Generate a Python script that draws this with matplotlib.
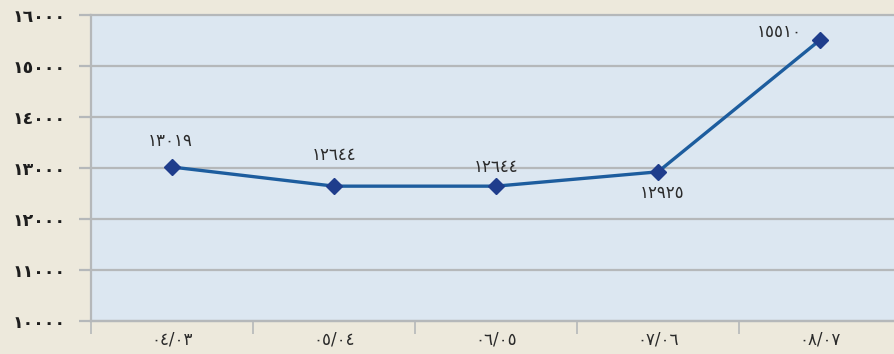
import matplotlib
matplotlib.use("Agg")
import matplotlib.pyplot as plt
from matplotlib.ticker import FixedLocator

# Series
periods = ["٠٤/٠٣", "٠٥/٠٤", "٠٦/٠٥", "٠٧/٠٦", "٠٨/٠٧"]
values = [13019, 12644, 12644, 12925, 15510]
value_labels = ["١٣٠١٩", "١٢٦٤٤", "١٢٦٤٤", "١٢٩٢٥", "١٥٥١٠"]
y_ticks = [10000, 11000, 12000, 13000, 14000, 15000, 16000]
y_tick_labels = ["١٠٠٠٠", "١١٠٠٠", "١٢٠٠٠", "١٣٠٠٠", "١٤٠٠٠", "١٥٠٠٠", "١٦٠٠٠"]

# label offsets in pixels (dx, dy)
label_offsets = [(-2, 26), (0, 31), (0, 19), (4, -21), (-41, 8)]

W, H = 895, 354
fig = plt.figure(figsize=(W / 100, H / 100), dpi=100)
fig.patch.set_facecolor("#ede9dc")

left, right, top, bottom = 91, 901, 15, 321
ax = fig.add_axes([left / W, 1 - bottom / H, (right - left) / W, (bottom - top) / H])
ax.set_facecolor("#dce7f1")

x = list(range(len(periods)))
ax.set_xlim(-0.5, len(periods) - 0.5)
ax.set_ylim(10000, 16000)

grid_c = "#b5b8ba"
for yv in y_ticks:
    ax.axhline(yv, color=grid_c, lw=1.6, zorder=1, clip_on=False)

ax.plot(x, values, color="#1d5d9e", lw=2.4, zorder=3,
        marker="D", markersize=8, markerfacecolor="#1f3d8c",
        markeredgecolor="#1f3d8c", clip_on=False)

for xi, v, lab, (dx, dy) in zip(x, values, value_labels, label_offsets):
    ax.annotate(lab, (xi, v), xytext=(dx * 0.72, dy * 0.72), textcoords="offset points",
                ha="center", va="center", fontsize=12, color="#2a2a2a",
                family="DejaVu Sans", zorder=4)

ax.set_yticks(y_ticks)
ax.set_yticklabels(y_tick_labels, fontsize=12.5, fontweight="bold", color="#1e1e1e")
ax.tick_params(axis="y", length=9, width=1.6, color=grid_c, pad=9)

ax.set_xticks(x)
ax.set_xticklabels(periods, fontsize=12, color="#2a2a2a")
ax.xaxis.set_minor_locator(FixedLocator([i - 0.5 for i in range(len(periods) + 1)]))
ax.tick_params(axis="x", which="major", length=0, pad=7)
ax.tick_params(axis="x", which="minor", length=9, width=1.2, color=grid_c)

for s in ["top", "right"]:
    ax.spines[s].set_visible(False)
ax.spines["left"].set_color(grid_c)
ax.spines["left"].set_linewidth(1.6)
ax.spines["bottom"].set_color(grid_c)
ax.spines["bottom"].set_linewidth(1.6)

fig.savefig("out.png", dpi=100, facecolor=fig.get_facecolor())
